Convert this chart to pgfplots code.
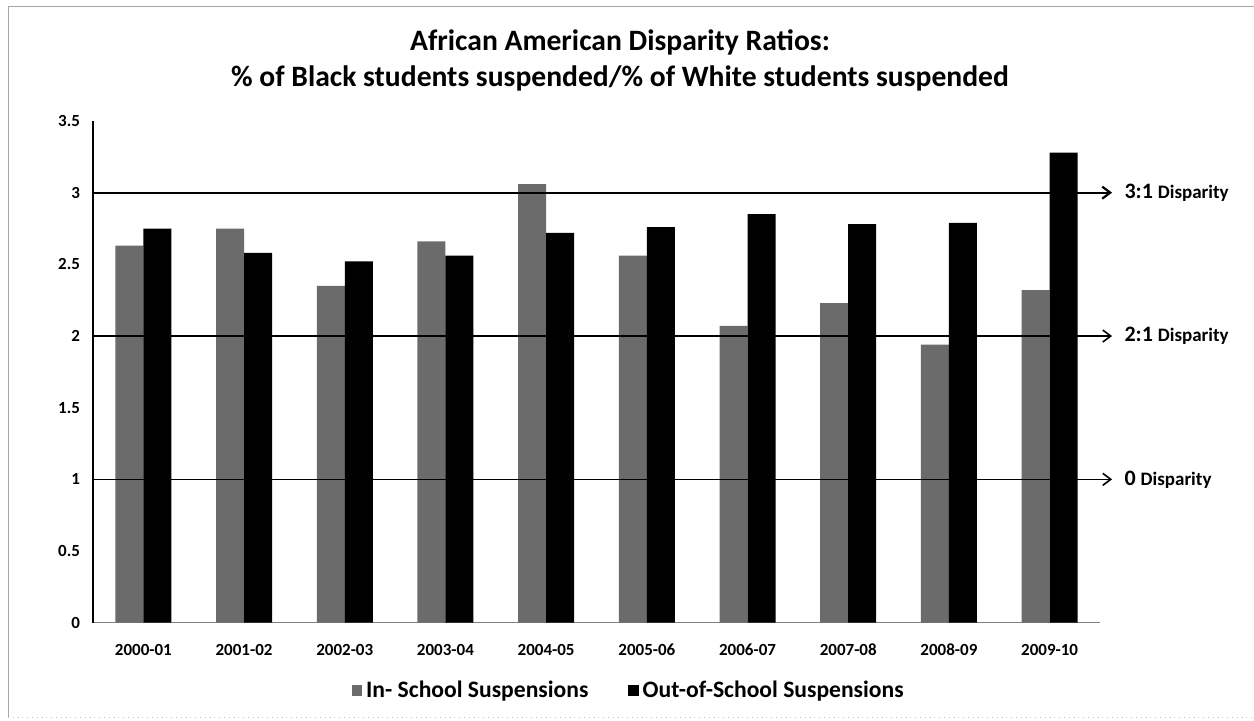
\documentclass[border=0pt]{standalone}
\usepackage{pgfplots}
\pgfplotsset{compat=1.18}
\usepackage{fontspec}
\setmainfont{Carlito}
\usetikzlibrary{arrows.meta}

\definecolor{inschool}{gray}{0.42}

\begin{document}
\begin{tikzpicture}[font=\bfseries]
% page frame
\useasboundingbox (0,0) rectangle (627pt,360.5pt);
\draw[gray!70, line width=0.5pt] (627pt,357pt) -- (4pt,357pt) -- (4pt,2pt);
\draw[gray!50, line width=0.4pt, dotted] (4pt,2pt) -- (627pt,2pt);

% title
\node[font=\bfseries\fontsize{14.8}{16}\selectfont] at (310pt,339.5pt) {African American Disparity Ratios:};
\node[font=\bfseries\fontsize{14.8}{16}\selectfont] at (310pt,321.5pt) {\% of Black students suspended/\% of White students suspended};

\begin{axis}[
  at={(46.5pt,49.15pt)}, anchor=south west,
  scale only axis,
  width=503.5pt, height=250.85pt,
  xmin=-0.5, xmax=9.5,
  ymin=0, ymax=3.5,
  ytick={0,0.5,1,1.5,2,2.5,3,3.5},
  yticklabels={0,0.5,1,1.5,2,2.5,3,3.5},
  xtick={0,...,9},
  xticklabels={2000-01,2001-02,2002-03,2003-04,2004-05,2005-06,2006-07,2007-08,2008-09,2009-10},
  ticklabel style={font=\bfseries\fontsize{8.5}{10}\selectfont},
  yticklabel style={xshift=-3pt},
  xticklabel style={yshift=-5pt, text height=1.6ex, text depth=0pt},
  major tick length=0pt,
  axis x line*=bottom,
  axis y line*=left,
  x axis line style={gray, line width=0.6pt, -},
  y axis line style={black, line width=0.6pt, -},
  ybar=0pt, bar width=14pt,
  clip=false,
  legend columns=2,
  legend style={draw=none, at={(0.533,-0.135)}, anchor=center,
    font=\bfseries\fontsize{11.8}{13}\selectfont,
    /tikz/every even column/.append style={column sep=18pt}},
  legend image code/.code={\fill[#1] (0pt,-2.6pt) rectangle (5.2pt,2.6pt);},
]
\addplot[fill=inschool, draw=none] coordinates {
  (0,2.63) (1,2.75) (2,2.35) (3,2.66) (4,3.06)
  (5,2.56) (6,2.07) (7,2.23) (8,1.94) (9,2.32)};
\addplot[fill=black, draw=none] coordinates {
  (0,2.75) (1,2.58) (2,2.52) (3,2.56) (4,2.72)
  (5,2.76) (6,2.85) (7,2.78) (8,2.79) (9,3.28)};
\legend{In- School Suspensions, Out-of-School Suspensions}

% reference lines with arrows
\draw[line width=1.1pt, -{Straight Barb[length=4pt,width=6pt]}] (axis cs:-0.5,3) -- (axis cs:9.62,3);
\draw[line width=0.8pt, -{Straight Barb[length=4pt,width=6pt]}] (axis cs:-0.5,2) -- (axis cs:9.62,2);
\draw[line width=0.8pt, -{Straight Barb[length=4pt,width=6pt]}] (axis cs:-0.5,1) -- (axis cs:9.62,1);
\node[anchor=west, inner sep=0pt] at (axis cs:9.74,3) {\fontsize{11}{12}\selectfont 3:1 \fontsize{9.5}{10}\selectfont Disparity};
\node[anchor=west, inner sep=0pt] at (axis cs:9.74,2) {\fontsize{11}{12}\selectfont 2:1 \fontsize{9.5}{10}\selectfont Disparity};
\node[anchor=west, inner sep=0pt] at (axis cs:9.74,1) {\fontsize{11}{12}\selectfont 0 \fontsize{9.5}{10}\selectfont Disparity};
\end{axis}
\end{tikzpicture}
\end{document}
